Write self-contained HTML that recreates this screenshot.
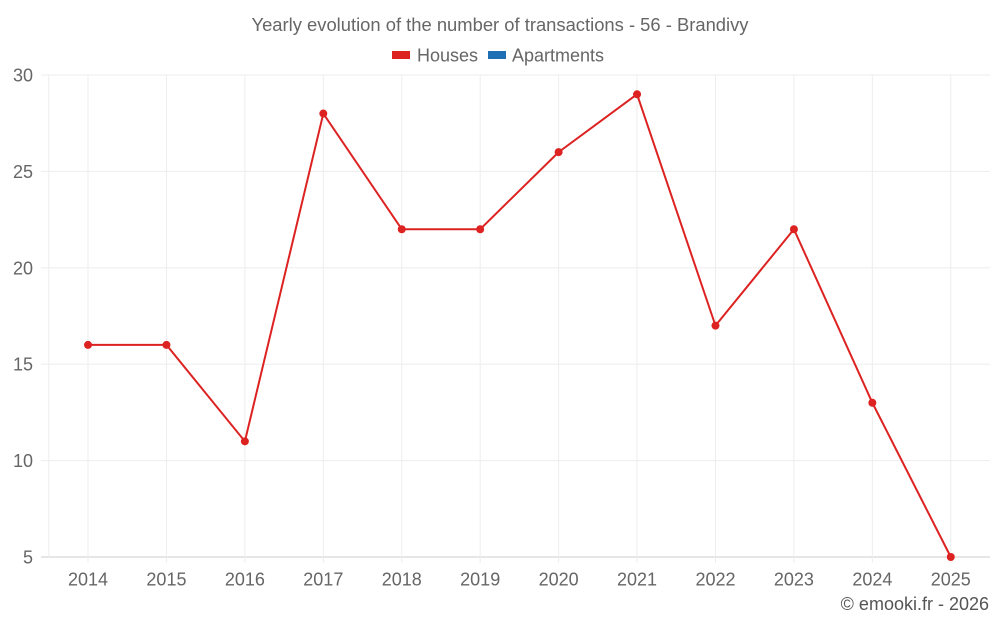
<!DOCTYPE html>
<html><head><meta charset="utf-8"><style>
body{margin:0;background:#fff;font-family:"Liberation Sans",sans-serif;}
svg text{font-family:"Liberation Sans",sans-serif;}
</style></head><body>
<svg id="chart" width="1000" height="625" xmlns="http://www.w3.org/2000/svg">
<text x="500" y="31" text-anchor="middle" font-size="18" fill="#666" textLength="497" lengthAdjust="spacingAndGlyphs">Yearly evolution of the number of transactions - 56 - Brandivy</text>
<g>
<g><rect x="392" y="51" width="18" height="8" fill="#dd2222"/><text x="417" y="61.5" font-size="18" fill="#666">Houses</text></g>
<g><rect x="488" y="51" width="18" height="8" fill="#1f6fb4"/><text x="512" y="61.5" font-size="18" fill="#666">Apartments</text></g>
</g>
<g id="grid"></g>
<g id="axes"></g>
<g id="series"></g>
<text x="989" y="610" text-anchor="end" font-size="18" fill="#555">© emooki.fr - 2026</text>
</svg>
<script>
const categories=["2014","2015","2016","2017","2018","2019","2020","2021","2022","2023","2024","2025"];
const houses=[16,16,11,28,22,22,26,29,17,22,13,5];
const yTicks=[5,10,15,20,25,30];
const L=48.8,R=990,T=75,B=557,yMin=5,yMax=30;
const band=(R-L)/categories.length;
const x=i=>L+band*(i+0.5);
const y=v=>B-(v-yMin)/(yMax-yMin)*(B-T);
const NS="http://www.w3.org/2000/svg";
function mk(tag,attrs,parent){const e=document.createElementNS(NS,tag);for(const k in attrs)e.setAttribute(k,attrs[k]);parent.appendChild(e);return e;}
const grid=document.getElementById('grid'),axes=document.getElementById('axes'),series=document.getElementById('series');
yTicks.forEach(t=>{
 const l=mk('line',{x1:41,x2:R,y1:y(t),y2:y(t),stroke:t===yMin?'#ccc':'#ededed','stroke-width':1},grid);
 
 
 const tx=mk('text',{x:33,y:y(t)+6.5,'text-anchor':'end','font-size':18,fill:'#666'},axes);
 tx.textContent=t;
 
 
});
const le=mk('line',{x1:L,x2:L,y1:T,y2:B,stroke:'#ededed'},grid);


categories.forEach((c,i)=>{
 const l=mk('line',{x1:x(i),x2:x(i),y1:T,y2:B+6,stroke:'#ededed'},grid);
 
 
 const tx=mk('text',{x:x(i),y:585.5,'text-anchor':'middle','font-size':18,fill:'#666'},axes);
 tx.textContent=c;
 
 
});
const p=mk('polyline',{points:houses.map((v,i)=>x(i)+','+y(v)).join(' '),fill:'none',stroke:'#dd2222','stroke-width':2},series);


houses.forEach((v,i)=>{
 const c=mk('circle',{cx:x(i),cy:y(v),r:4,fill:'#dd2222'},series);
 
 
});
</script>
</body></html>
